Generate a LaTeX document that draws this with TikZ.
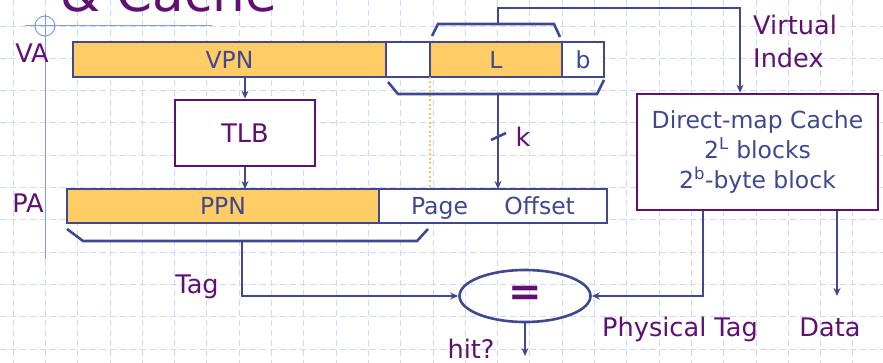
\documentclass[tikz,border=0pt]{standalone}
\usepackage{fontspec}
\setmainfont{DejaVu Sans}
\usepackage{tikz}
\usetikzlibrary{arrows.meta,positioning,shapes.geometric}

\definecolor{fieldline}{RGB}{64,72,144}
\definecolor{labtext}{RGB}{96,16,112}
\definecolor{fieldfill}{RGB}{255,204,102}
\definecolor{sheetline}{RGB}{208,216,246}
\definecolor{decoline}{RGB}{125,155,240}

\newcommand{\boxfont}{\fontsize{23.5}{30}\selectfont}
\newcommand{\notefont}{\fontsize{25.6}{33}\selectfont}

\begin{document}
\begin{tikzpicture}[x=1pt, y=-1pt,
    field/.style={draw=fieldline, line width=2.6pt, fill=fieldfill, text=fieldline,
      font=\boxfont, minimum height=35pt, inner sep=0pt, outer sep=0pt},
    blank/.style={field, fill=white},
    unit/.style={draw=labtext, line width=2.6pt, fill=white, align=center,
      font=\boxfont, inner sep=0pt},
    lab/.style={text=labtext, font=\notefont, inner sep=0pt},
    wire/.style={draw=fieldline, line width=2.6pt},
    feed/.style={wire, -{Stealth[length=8pt, width=7pt]}},
    sheetgrid/.style={sheetline, line width=0.8pt, dash pattern=on 6pt off 4pt}
  ]
  \useasboundingbox (0,0) rectangle (883,363);
  \clip (0,0) rectangle (883,363);

  % slide background
  \foreach \i in {0,...,27}
    \draw[sheetgrid] (13+32.3*\i,0) -- (13+32.3*\i,363);
  \foreach \j in {0,...,11}
    \draw[sheetgrid] (0,-6.3+32.3*\j) -- (883,-6.3+32.3*\j);
  \node[lab, anchor=base west, font=\fontsize{51.6}{60}\selectfont] (title) at (60,12) {\& Cache};
  \draw[decoline, line width=1pt] (25,26) -- (212,26);
  \draw[decoline, line width=1pt] (45,14) -- (45,259);
  \draw[decoline, line width=1pt] (45,26) circle[radius=10];

  % virtual address
  \node[field, minimum width=313pt] (vpn) at (229.5,59.5) {VPN};
  \node[blank, minimum width=44pt, right=0pt of vpn] (gap) {};
  \node[field, minimum width=132pt, right=0pt of gap] (lidx) {L};
  \node[blank, minimum width=42pt, right=0pt of lidx] (boff) {b};
  \node[lab, anchor=base] (va) at (32,63) {VA};

  % physical address
  \node[field, minimum width=312pt, minimum height=34pt] (ppn) at (223,206) {PPN};
  \node[blank, minimum width=228pt, minimum height=34pt, text depth=0pt,
    right=0pt of ppn] (pgoff) {Page\hspace{1.55em}Offset};
  \node[lab, anchor=base] (pa) at (28,213) {PA};

  \draw[fieldfill!90!orange, line width=2pt, dash pattern=on 2pt off 2.5pt]
    (lidx.south west) -- (lidx.south west |- pgoff.north);

  \node[unit, text=labtext, font=\notefont, minimum width=140pt, minimum height=66pt] (tlb) at (245,133) {TLB};
  \draw[feed] (tlb.north |- vpn.south) -- (tlb.north);
  \draw[feed] (tlb.south) -- (tlb.south |- ppn.north);

  \node[unit, text=fieldline, minimum width=241pt, minimum height=116pt] (cache) at (757.5,152)
    {Direct-map Cache\\2\textsuperscript{L} blocks\\2\textsuperscript{b}-byte block};

  \node[ellipse, draw=fieldline, line width=2.6pt, minimum width=131pt, minimum height=52pt,
    inner sep=0pt, text=labtext, font=\fontsize{40}{44}\selectfont\bfseries] (eq) at (525,296) {=};

  % index bits
  \draw[wire] (432,36) -- (438,24) -- (554,24) -- (560,37);
  \coordinate (idxtap) at (498,24);
  \coordinate (idxturn) at (740,8);
  \draw[feed] (idxtap) |- (idxturn) -- (idxturn |- cache.north);
  \node[lab, align=left, anchor=north west] (vindex) at (753,14.5) {Virtual\\Index};

  % page offset
  \draw[wire] (388,82) -- (398,94) -- (597,94) -- (604,80);
  \coordinate (offtap) at (498,94);
  \draw[feed] (offtap) -- (offtap |- pgoff.north);
  \draw[wire] (491,140) -- (506,133);
  \node[lab, anchor=base] (kbits) at (523,147) {k};

  % tag compare
  \draw[wire] (67,229) -- (83,241) -- (417,241) -- (428,229);
  \coordinate (tagtap) at (242,241);
  \draw[feed] (tagtap) |- (eq.west);
  \node[lab, anchor=base] (taglab) at (197,294) {Tag};

  \draw[feed] ([xshift=-54.5pt]cache.south) |- (eq.east);
  \coordinate (dataend) at (837,296);
  \draw[feed] (cache.south -| dataend) -- (dataend);
  \coordinate (hitend) at (525,356);
  \draw[feed] (eq.south) -- (hitend);

  \node[lab, anchor=base] (ptag) at (680,336) {Physical Tag};
  \node[lab, anchor=base] (data) at (830,336) {Data};
  \node[lab, anchor=base] (hit) at (471,358) {hit?};
\end{tikzpicture}
\end{document}
